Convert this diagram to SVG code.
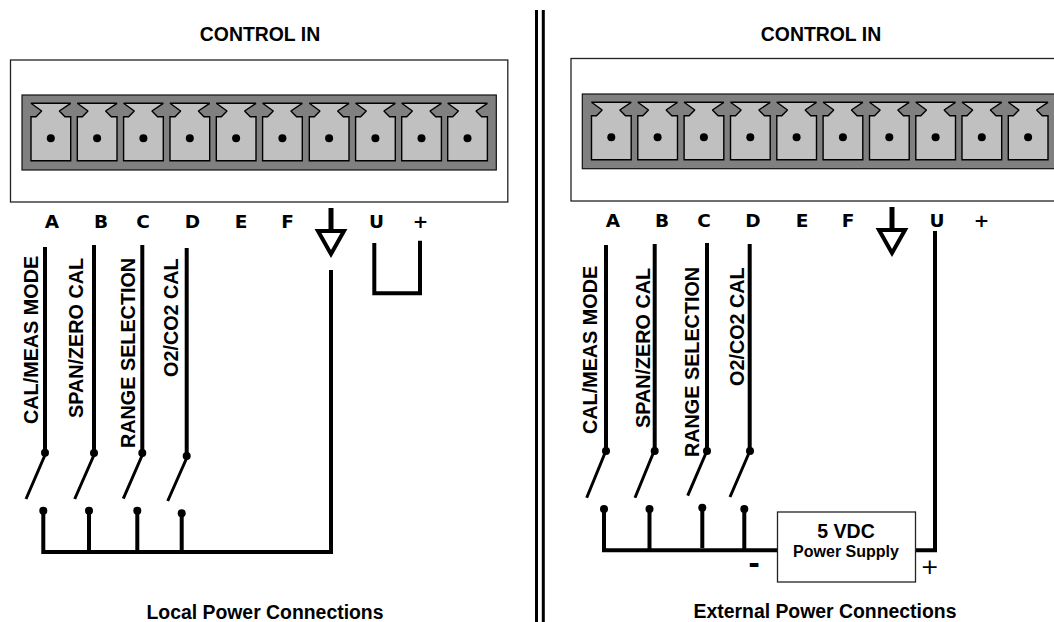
<svg xmlns="http://www.w3.org/2000/svg" width="1054" height="622" viewBox="0 0 1054 622">
<style>
text{font-family:"Liberation Sans",Arial,sans-serif;font-weight:bold;fill:#000}
.t{font-size:19.4px;text-anchor:middle}
.l{font-family:"DejaVu Sans",sans-serif;font-size:18.5px;text-anchor:middle}
.v{font-size:19.8px}
.w{fill:none;stroke:#000;stroke-width:4}
.b{fill:none;stroke:#000;stroke-width:3}
.box{fill:#fff;stroke:#222;stroke-width:1.3}
.conn{fill:#808080;stroke:#111;stroke-width:1.2}
.term{fill:#c0c0c0;stroke:#000;stroke-width:1.4;stroke-miterlimit:1.5}
</style>
<defs>
<g id="terminal">
<path class="term" d="M0 103.3H39.7L28.3 111L34 116.7H39.700V160.700H0V116.700H5L10.700 111Z"/>
<circle cx="19.800" cy="138.300" r="4" fill="#000"/>
</g>
<g id="ground">
<path d="M0 0V23" fill="none" stroke="#000" stroke-width="5"/>
<path d="M-13 23H13L0 46Z" fill="#fff" stroke="#000" stroke-width="4"/>
</g>
<circle id="dot" r="4" fill="#000"/>
</defs>
<rect width="1054" height="622" fill="#fff"/>

<g id="divider"><path d="M536.500 10V622M543.300 10V622" fill="none" stroke="#000" stroke-width="3"/></g>

<g id="left-panel">
<text class="t" x="260" y="41">CONTROL IN</text>
<rect class="box" x="10.500" y="60" width="497.300" height="142"/>
<rect class="conn" x="22" y="95" width="474.300" height="75"/>
<use href="#terminal" x="31"/><use href="#terminal" x="77.300"/><use href="#terminal" x="123.600"/><use href="#terminal" x="170"/><use href="#terminal" x="216.300"/><use href="#terminal" x="262.600"/><use href="#terminal" x="309.300"/><use href="#terminal" x="355.600"/><use href="#terminal" x="401.700"/><use href="#terminal" x="447.700"/>
<text class="l" x="52" y="227.500">A</text><text class="l" x="101" y="227.500">B</text><text class="l" x="143" y="227.500">C</text><text class="l" x="192.500" y="227.500">D</text><text class="l" x="241" y="227.500">E</text><text class="l" x="287.500" y="227.500">F</text><text class="l" x="376.500" y="227.500">U</text><text class="l" x="420.500" y="227.500">+</text>
<use href="#ground" x="331" y="208"/>
<text class="v" transform="translate(38 424) rotate(-90)">CAL/MEAS MODE</text>
<text class="v" transform="translate(83 418) rotate(-90)">SPAN/ZERO CAL</text>
<text class="v" transform="translate(135 448) rotate(-90)">RANGE SELECTION</text>
<text class="v" transform="translate(178 377) rotate(-90)">O2/CO2 CAL</text>
<text class="t" x="265" y="619">Local Power Connections</text>
</g>

<g id="left-connectors">
<path class="w" d="M45 247V453M94 245V453M142.300 245V453M186.700 248V456M331 270V552H43.300V511M89 511V552M137.300 511V552M181.700 513V552"/>
<path class="w" d="M374.300 243V293.300H420V240.700"/>
<path class="b" d="M45 455L26 499M94 455L74.700 499M142.300 455L123.300 498.700M186.700 458L167.700 501"/>
<use href="#dot" x="45" y="452.700"/><use href="#dot" x="94" y="453"/><use href="#dot" x="142.300" y="453"/><use href="#dot" x="186.700" y="456"/>
<use href="#dot" x="43.300" y="510.700"/><use href="#dot" x="89" y="510.700"/><use href="#dot" x="137.300" y="510.700"/><use href="#dot" x="181.700" y="513.300"/>
</g>

<g id="right-panel">
<text class="t" x="821" y="41">CONTROL IN</text>
<rect class="box" x="571" y="58.500" width="497.500" height="142.500"/>
<rect class="conn" x="582.300" y="94" width="490" height="74.700"/>
<g transform="translate(0 -1)">
<use href="#terminal" x="591.500"/><use href="#terminal" x="637.800"/><use href="#terminal" x="684.100"/><use href="#terminal" x="730.500"/><use href="#terminal" x="776.800"/><use href="#terminal" x="823.100"/><use href="#terminal" x="869.500"/><use href="#terminal" x="915.800"/><use href="#terminal" x="962"/><use href="#terminal" x="1008.300"/>
</g>
<text class="l" x="613" y="226.500">A</text><text class="l" x="662" y="226.500">B</text><text class="l" x="704" y="226.500">C</text><text class="l" x="753" y="226.500">D</text><text class="l" x="802" y="226.500">E</text><text class="l" x="848" y="226.500">F</text><text class="l" x="937" y="226.500">U</text><text class="l" x="981.500" y="226.500">+</text>
<use href="#ground" x="892" y="207"/>
<text class="v" transform="translate(597 434) rotate(-90)">CAL/MEAS MODE</text>
<text class="v" transform="translate(650 428) rotate(-90)">SPAN/ZERO CAL</text>
<text class="v" transform="translate(699 457) rotate(-90)">RANGE SELECTION</text>
<text class="v" transform="translate(744 386) rotate(-90)">O2/CO2 CAL</text>
<text class="t" x="825" y="618">External Power Connections</text>
</g>

<g id="right-connectors">
<path class="w" d="M606 245V451M654.700 244V451M707 243V451M749.700 244V451M935 231V550.300H916M778 550.300H604V509M649.500 509V550M702.300 508V548M744.300 509V550"/>
<path class="b" d="M605 453L586.700 497.700M653.300 453L635 497.700M706 453L687.700 495.700M749 453L730 497"/>
<use href="#dot" x="606" y="451"/><use href="#dot" x="654.700" y="451"/><use href="#dot" x="707" y="451"/><use href="#dot" x="750" y="451"/>
<use href="#dot" x="604" y="509"/><use href="#dot" x="649.500" y="509"/><use href="#dot" x="702.300" y="507.700"/><use href="#dot" x="744.300" y="509"/>
</g>

<g id="power-supply">
<rect x="777.500" y="512" width="138" height="70" fill="#fff" stroke="#222" stroke-width="1.3"/>
<text x="846" y="537.700" text-anchor="middle" font-size="19.500">5 VDC</text>
<text x="846" y="557" text-anchor="middle" font-size="16">Power Supply</text>
<text x="754" y="573" text-anchor="middle" font-size="28" style="font-family:'DejaVu Sans',sans-serif">-</text>
<text x="929.700" y="574" text-anchor="middle" font-size="22" style="font-family:'DejaVu Sans',sans-serif;font-weight:normal">+</text>
</g>
</svg>
